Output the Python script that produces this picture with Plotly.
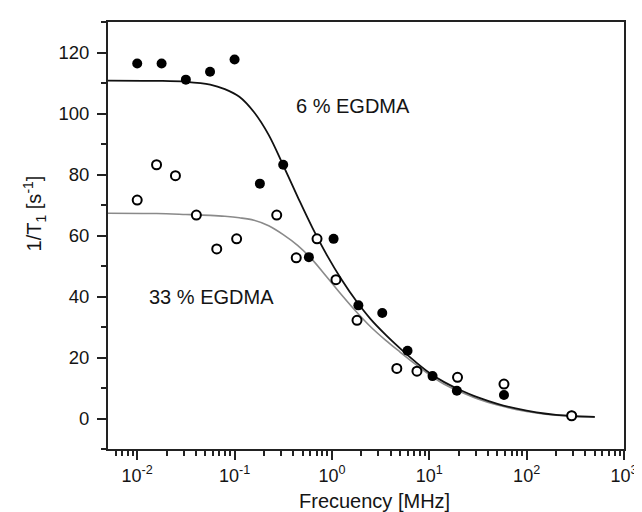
import plotly.graph_objects as go

# ---- data ----
freq_6 = [0.01, 0.0178, 0.0316, 0.056, 0.1, 0.182, 0.316, 0.58, 1.04, 1.87, 3.29, 5.98, 10.8, 19.2, 58.5, 290]
rate_6 = [116.4, 116.4, 111.1, 113.7, 117.7, 77.0, 83.2, 52.9, 58.9, 37.1, 34.6, 22.2, 13.9, 9.1, 7.7, 0.9]

freq_33 = [0.01, 0.0158, 0.0247, 0.0405, 0.0656, 0.105, 0.271, 0.43, 0.703, 1.1, 1.81, 4.64, 7.47, 19.5, 58.5, 290]
rate_33 = [71.6, 83.2, 79.6, 66.7, 55.6, 58.9, 66.7, 52.7, 58.9, 45.5, 32.2, 16.4, 15.5, 13.5, 11.3, 0.9]

fit_freq = [0.0050, 0.0158, 0.0316, 0.0562, 0.0794, 0.112, 0.158, 0.224, 0.316, 0.447,
            0.631, 0.891, 1.26, 1.78, 2.51, 3.55, 5.01, 7.08, 10.0, 14.1,
            20.0, 31.6, 50.1, 79.4, 126, 200, 316, 501]
fit_6 = [110.8, 110.7, 110.4, 109.5, 108.0, 105.5, 100.5, 93.0, 83.0, 72.5,
         62.5, 53.5, 45.5, 38.5, 32.5, 27.5, 23.0, 18.8, 15.0, 12.0,
         9.6, 6.9, 4.8, 3.2, 2.0, 1.2, 0.8, 0.55]
fit_33 = [67.3, 67.2, 66.9, 66.6, 66.3, 65.8, 65.0, 63.2, 60.3, 56.7,
          52.0, 46.3, 40.5, 35.0, 30.0, 25.7, 21.8, 18.0, 14.4, 11.3,
          9.0, 6.4, 4.4, 2.9, 1.8, 1.1, 0.7, 0.45]

x_tickvals = [0.01, 0.1, 1, 10, 100, 1000]
x_ticktext = ["10<sup>-2</sup>", "10<sup>-1</sup>", "10<sup>0</sup>",
              "10<sup>1</sup>", "10<sup>2</sup>", "10<sup>3</sup>"]
y_tickvals = [0, 20, 40, 60, 80, 100, 120]

x_title = "Frecuency [MHz]"
y_title = "1/T<sub>1</sub> [s<sup>-1</sup>]"
label_6 = "6 % EGDMA"
label_33 = "33 % EGDMA"

minor_x = [m * 10 ** e for e in range(-3, 3) for m in range(2, 10)]

font_family = "Liberation Sans, Arial, sans-serif"
text_col = "#141414"

fig = go.Figure()
fig.add_trace(go.Scatter(x=fit_freq, y=fit_33, mode="lines", line=dict(color="#8a8a8a", width=1.6),
                         line_shape="spline", showlegend=False, hoverinfo="skip"))
fig.add_trace(go.Scatter(x=fit_freq, y=fit_6, mode="lines", line=dict(color="#111111", width=1.8),
                         line_shape="spline", showlegend=False, hoverinfo="skip"))
fig.add_trace(go.Scatter(x=freq_6, y=rate_6, mode="markers",
                         marker=dict(symbol="circle", size=10, color="#000000",
                                     line=dict(color="#000000", width=0)),
                         showlegend=False))
fig.add_trace(go.Scatter(x=freq_33, y=rate_33, mode="markers",
                         marker=dict(symbol="circle", size=9, color="#ffffff",
                                     line=dict(color="#000000", width=2)),
                         showlegend=False))

fig.add_annotation(x=0.22, y=102.5, xref="x", yref="y", text=label_6, showarrow=False,
                   font=dict(family=font_family, size=20, color=text_col))
fig.add_annotation(x=-1.24, y=40, xref="x", yref="y", text=label_33, showarrow=False,
                   font=dict(family=font_family, size=20, color=text_col))
fig.add_annotation(x=0.517, y=-0.1215, xref="paper", yref="paper", text=x_title,
                   showarrow=False, xanchor="center", yanchor="middle",
                   font=dict(family=font_family, size=20, color=text_col))
fig.add_annotation(x=-0.142, y=0.551, xref="paper", yref="paper", text=y_title,
                   showarrow=False, xanchor="center", yanchor="middle", textangle=-90,
                   font=dict(family=font_family, size=20, color=text_col))

fig.update_xaxes(type="log", range=[-2.3, 3], tickmode="array", tickvals=x_tickvals,
                 ticktext=x_ticktext, ticks="outside", ticklen=9, tickwidth=1.5,
                 tickcolor="#222", showline=True, linecolor="#222", linewidth=1.8,
                 mirror=True, showgrid=False, zeroline=False,
                 minor=dict(tickmode="array", tickvals=minor_x, ticks="outside",
                            ticklen=5, tickwidth=1.5, tickcolor="#222", showgrid=False),
                 tickfont=dict(family=font_family, size=18, color=text_col))
fig.update_yaxes(range=[-10, 130], tickmode="array", tickvals=y_tickvals,
                 ticks="outside", ticklen=9, tickwidth=1.5, tickcolor="#222",
                 showline=True, linecolor="#222", linewidth=1.8, mirror=True,
                 showgrid=False, zeroline=False, ticklabelstandoff=4,
                 minor=dict(dtick=10, tick0=0, ticks="outside", ticklen=5, tickwidth=1.5,
                            tickcolor="#222", showgrid=False),
                 tickfont=dict(family=font_family, size=18.5, color=text_col))

fig.update_layout(width=642, height=512, margin=dict(l=100, r=15, t=13, b=71),
                  plot_bgcolor="white", paper_bgcolor="white", showlegend=False)

fig.write_html("out.html")
